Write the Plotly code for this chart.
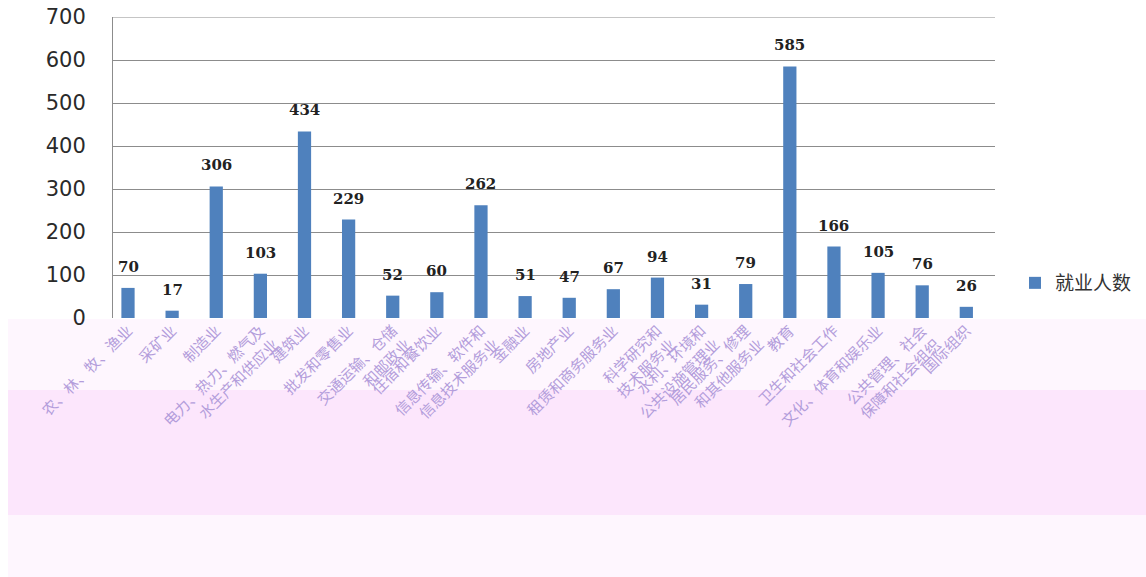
import plotly.graph_objects as go

categories = [
    "农、林、牧、渔业", "采矿业", "制造业", "电力、热力、燃气及<br>水生产和供应业", "建筑业",
    "批发和零售业", "交通运输、仓储<br>和邮政业", "住宿和餐饮业", "信息传输、软件和<br>信息技术服务业", "金融业",
    "房地产业", "租赁和商务服务业", "科学研究和<br>技术服务业", "水利、环境和<br>公共设施管理业", "居民服务、修理<br>和其他服务业",
    "教育", "卫生和社会工作", "文化、体育和娱乐业", "公共管理、社会<br>保障和社会组织", "国际组织",
]
values = [70, 17, 306, 103, 434, 229, 52, 60, 262, 51, 47, 67, 94, 31, 79, 585, 166, 105, 76, 26]
series_name = "就业人数"
y_ticks = [0, 100, 200, 300, 400, 500, 600, 700]

xs = list(range(len(categories)))

fig = go.Figure()
fig.add_trace(go.Bar(
    x=xs, y=values, name=series_name,
    marker=dict(color="#4F81BD", line=dict(width=0)),
    cliponaxis=False,
))

annotations = [
    dict(x=x, y=v, xref="x", yref="y", text="<b>%d</b>" % v, showarrow=False,
         yanchor="bottom", yshift=10,
         font=dict(family="DejaVu Serif", size=15, color="#222222"))
    for x, v in zip(xs, values)
]

W, H = 1146, 577
ml, mr, mt, mb = 113, 151, 17, 259
pw, ph = W - ml - mr, H - mt - mb

def px_x(p):
    return (p - ml) / pw

def px_y(p):
    return (H - mb - p) / ph

shapes = [
    dict(type="rect", xref="paper", yref="paper", x0=px_x(8), x1=px_x(1146), y0=px_y(577), y1=px_y(319),
         fillcolor="#FEF6FE", line=dict(width=0), layer="below"),
    dict(type="rect", xref="paper", yref="paper", x0=px_x(8), x1=px_x(1146), y0=px_y(515), y1=px_y(390),
         fillcolor="#FCE6FC", line=dict(width=0), layer="below"),
    dict(type="line", xref="paper", yref="y", x0=0, x1=1, y0=y_ticks[-1], y1=y_ticks[-1],
         line=dict(color="#8C8C8C", width=1), layer="below"),
]

fig.update_layout(
    width=W, height=H,
    margin=dict(l=ml, r=mr, t=mt, b=mb, autoexpand=False),
    paper_bgcolor="white", plot_bgcolor="white",
    bargap=0.7,
    showlegend=True,
    legend=dict(x=px_x(1015), y=px_y(283), xanchor="left", yanchor="middle",
                itemwidth=30,
                font=dict(family="Noto Sans CJK SC", size=19, color="#333333"),
                bgcolor="rgba(0,0,0,0)"),
    shapes=shapes,
    annotations=annotations,
    xaxis=dict(
        tickmode="array", tickvals=xs, ticktext=categories,
        tickangle=-45, range=[-0.34, 19.65], automargin=False,
        tickfont=dict(family="Noto Sans CJK SC", size=15, color="#B39DDB"),
        showgrid=False, showline=False, ticks="",
    ),
    yaxis=dict(
        range=[0, 700], tickvals=y_ticks, automargin=False,
        ticklabeloverflow="allow", ticklabelstandoff=22,
        tickfont=dict(family="DejaVu Sans", size=21, color="#2A2A2A"),
        showgrid=True, gridcolor="#8C8C8C", gridwidth=1,
        showline=True, linecolor="#8C8C8C", linewidth=1,
        zeroline=False, ticks="", ticklen=0,
    ),
)

fig.write_html("out.html", config={"displayModeBar": False},
               post_script="document.body.style.margin='0';")
